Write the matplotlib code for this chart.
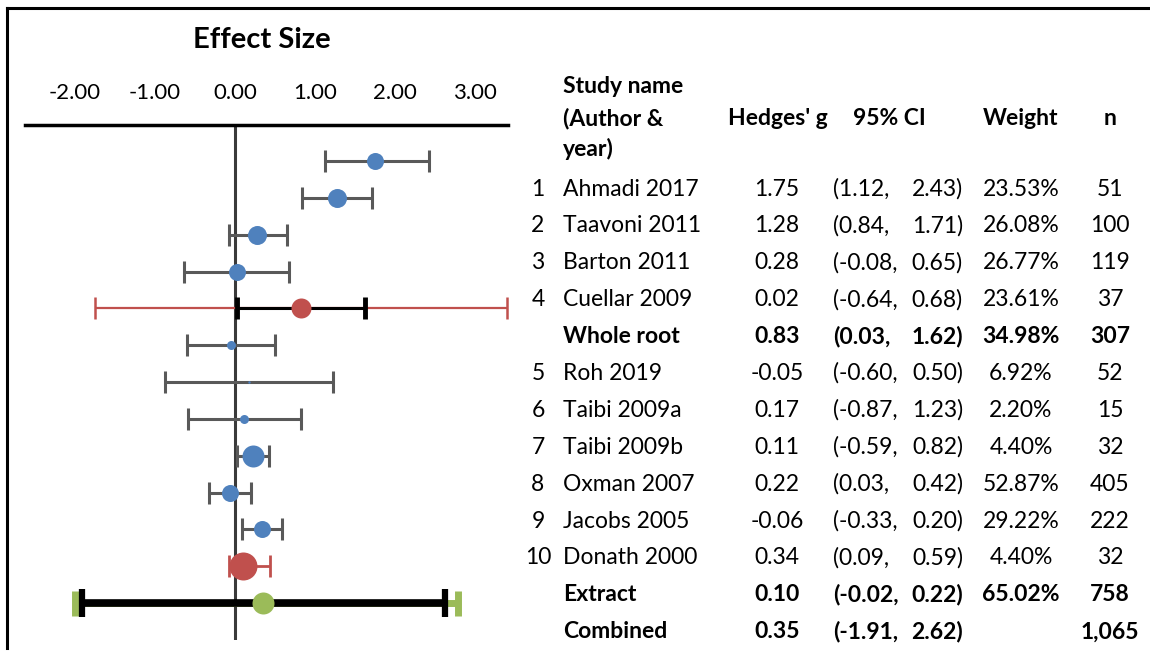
import matplotlib

matplotlib.use("Agg")
import matplotlib.pyplot as plt
from matplotlib.lines import Line2D

# ---------------- DATA ----------------
ROW_NUMS = ["1", "2", "3", "4", "", "5", "6", "7", "8", "9", "10", "", ""]
STUDIES = [
    "Ahmadi 2017", "Taavoni 2011", "Barton 2011", "Cuellar 2009", "Whole root",
    "Roh 2019", "Taibi 2009a", "Taibi 2009b", "Oxman 2007", "Jacobs 2005",
    "Donath 2000", "Extract", "Combined",
]
HEDGES_G = [1.75, 1.28, 0.28, 0.02, 0.83, -0.05, 0.17, 0.11, 0.22, -0.06, 0.34, 0.10, 0.35]
CI_LOW = [1.12, 0.84, -0.08, -0.64, 0.03, -0.60, -0.87, -0.59, 0.03, -0.33, 0.09, -0.02, -1.91]
CI_HIGH = [2.43, 1.71, 0.65, 0.68, 1.62, 0.50, 1.23, 0.82, 0.42, 0.20, 0.59, 0.22, 2.62]
WEIGHTS = ["23.53%", "26.08%", "26.77%", "23.61%", "34.98%", "6.92%", "2.20%",
           "4.40%", "52.87%", "29.22%", "4.40%", "65.02%", ""]
N_SIZES = ["51", "100", "119", "37", "307", "52", "15", "32", "405", "222", "32", "758", "1,065"]

# pooled rows and the wider interval drawn behind them
POOLED_ROWS = [4, 11, 12]
OUTER_LOW = [-1.75, -0.08, -2.00]
OUTER_HIGH = [3.40, 0.44, 2.79]

X_TICKS = [-2, -1, 0, 1, 2, 3]

# ---------------- STYLE ----------------
W, H = 1150, 655
BLUE = "#4F81BD"
RED = "#C0504D"
GREEN = "#9BBB59"
GRAY = "#595959"
MARKER_PX = [17, 19, 19, 17, 20, 9, 2.5, 9, 22, 17, 17, 28, 22]
FS = 16.5

plt.rcParams["font.family"] = ["Lato", "DejaVu Sans"]


def fx(x):
    return x / W


def fy(y):
    return 1 - y / H


fig = plt.figure(figsize=(W / 100, H / 100), dpi=100)

# ---------------- FOREST PLOT ----------------
ax = fig.add_axes([fx(25), fy(640), (508 - 25) / W, (640 - 125) / H])
ax.set_xlim((25 - 235) / 80, (508 - 235) / 80)
ax.set_ylim(13.0, -0.977)

for i, (g, lo, hi) in enumerate(zip(HEDGES_G, CI_LOW, CI_HIGH)):
    ms = MARKER_PX[i] * 0.72
    if i not in POOLED_ROWS:
        ax.errorbar(g, i, xerr=[[g - lo], [hi - g]], fmt="none", ecolor=GRAY,
                    elinewidth=2.2, capsize=8, capthick=2.2, zorder=2)
        ax.plot(g, i, "o", ms=ms, color=BLUE, mec="none", zorder=4)
        continue
    k = POOLED_ROWS.index(i)
    olo, ohi = OUTER_LOW[k], OUTER_HIGH[k]
    if i == 12:
        ax.errorbar(g, i, xerr=[[g - olo], [ohi - g]], fmt="none", ecolor=GREEN,
                    elinewidth=5, capsize=9, capthick=5, zorder=2)
        ax.errorbar(g, i, xerr=[[g - lo], [hi - g]], fmt="none", ecolor="black",
                    elinewidth=5.5, capsize=10, capthick=4.5, zorder=3)
        ax.plot(g, i, "o", ms=ms, color=GREEN, mec="none", zorder=4)
    elif i == 4:
        ax.errorbar(g, i, xerr=[[g - olo], [ohi - g]], fmt="none", ecolor=RED,
                    elinewidth=1.6, capsize=8, capthick=1.8, zorder=2)
        ax.errorbar(g, i, xerr=[[g - lo], [hi - g]], fmt="none", ecolor="black",
                    elinewidth=2.2, capsize=8, capthick=3.5, zorder=3)
        ax.plot(g, i, "o", ms=ms, color=RED, mec="none", zorder=4)
    else:
        # the narrow pooled CI is hidden under the marker here
        ax.errorbar(g, i, xerr=[[g - olo], [ohi - g]], fmt="none", ecolor=RED,
                    elinewidth=2.0, capsize=8, capthick=2.0, zorder=2)
        ax.plot(g, i, "o", ms=ms, color=RED, mec="none", zorder=4)

ax.axvline(0, color="#3a3a3a", lw=2.2, zorder=1)

for side in ["left", "right", "bottom"]:
    ax.spines[side].set_visible(False)
ax.spines["top"].set_linewidth(2.5)
ax.xaxis.tick_top()
ax.set_xticks(X_TICKS)
ax.set_xticklabels([f"{t:.2f}" for t in X_TICKS])
ax.tick_params(axis="x", length=0, pad=16, labelsize=16)
ax.set_yticks([])
ax.patch.set_alpha(0)

fig.text(fx(262), fy(40), "Effect Size", ha="center", va="center",
         fontsize=21, fontweight="bold")

# ---------------- TABLE ----------------
fig.text(fx(563), fy(93), "Study name", fontsize=FS, fontweight="bold")
fig.text(fx(563), fy(125), "(Author &", fontsize=FS, fontweight="bold")
fig.text(fx(563), fy(156), "year)", fontsize=FS, fontweight="bold")
for label, x in [("Hedges' g", 778), ("95% CI", 889), ("Weight", 1021), ("n", 1110)]:
    fig.text(fx(x), fy(125), label, ha="center", fontsize=FS, fontweight="bold")

for i in range(len(STUDIES)):
    yb = fy(195.5 + 36.9 * i)
    fw = "bold" if i in POOLED_ROWS else "normal"
    fig.text(fx(538), yb, ROW_NUMS[i], ha="center", fontsize=FS)
    fig.text(fx(563), yb, STUDIES[i], fontsize=FS, fontweight=fw)
    fig.text(fx(777), yb, f"{HEDGES_G[i]:.2f}", ha="center", fontsize=FS, fontweight=fw)
    fig.text(fx(833), yb, f"({CI_LOW[i]:.2f},", fontsize=FS, fontweight=fw)
    fig.text(fx(963), yb, f"{CI_HIGH[i]:.2f})", ha="right", fontsize=FS, fontweight=fw)
    fig.text(fx(1021), yb, WEIGHTS[i], ha="center", fontsize=FS, fontweight=fw)
    fig.text(fx(1110), yb, N_SIZES[i], ha="center", fontsize=FS, fontweight=fw)

# frame lines
fig.add_artist(Line2D([fx(7), fx(7)], [fy(8), fy(648)], color="black", lw=2.2))
fig.add_artist(Line2D([fx(7), 1], [fy(8), fy(8)], color="black", lw=2.2))

fig.savefig("out.png", dpi=100)
